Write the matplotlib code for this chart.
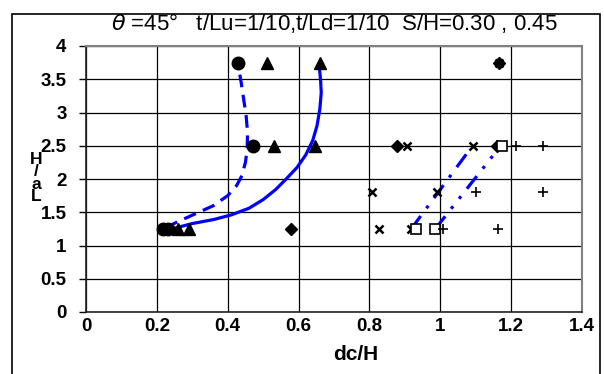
import matplotlib
matplotlib.use("Agg")
import matplotlib.pyplot as plt
from matplotlib.patches import Rectangle

plt.rcParams['font.family'] = ['Liberation Sans', 'DejaVu Sans']

# measured points (dc/H, H/aL)
circle_x = [0.43, 0.47, 0.218, 0.232]
circle_y = [3.75, 2.5, 1.25, 1.25]
tri_x = [0.51, 0.66, 0.53, 0.645, 0.26, 0.29]
tri_y = [3.75, 3.75, 2.5, 2.5, 1.25, 1.25]
diam_x = [0.58, 0.878, 1.161, 1.165]
diam_y = [1.25, 2.5, 2.5, 3.75]
xmark_x = [0.907, 1.093, 0.808, 0.99, 0.828, 0.918, 1.165]
xmark_y = [2.5, 2.5, 1.8, 1.8, 1.25, 1.25, 3.75]
square_x = [1.175, 0.932, 0.986]
square_y = [2.5, 1.25, 1.25]
plus_x = [1.215, 1.29, 1.10, 1.29, 1.009, 1.164]
plus_y = [2.5, 2.5, 1.8, 1.8, 1.25, 1.25]

# fitted curves
dash_x = [0.225, 0.26, 0.31, 0.36, 0.40, 0.425, 0.44, 0.45, 0.455, 0.456, 0.452, 0.445, 0.438, 0.43]
dash_y = [1.27, 1.36, 1.48, 1.60, 1.75, 1.90, 2.05, 2.25, 2.45, 2.70, 2.95, 3.20, 3.45, 3.71]
solid_x = [0.25, 0.30, 0.36, 0.41, 0.46, 0.50, 0.535, 0.565, 0.595, 0.62, 0.64, 0.652, 0.66, 0.664, 0.662, 0.658]
solid_y = [1.26, 1.33, 1.39, 1.46, 1.56, 1.69, 1.84, 2.00, 2.17, 2.36, 2.58, 2.80, 3.05, 3.30, 3.50, 3.71]
dashdot_x = [0.918, 1.08]
dashdot_y = [1.25, 2.42]
dashdotdot_x = [0.986, 1.175]
dashdotdot_y = [1.25, 2.53]

xticks = [0, 0.2, 0.4, 0.6, 0.8, 1, 1.2, 1.4]
yticks = [0, 0.5, 1, 1.5, 2, 2.5, 3, 3.5, 4]

fig = plt.figure(figsize=(6.04, 3.74), dpi=100)
ax = fig.add_axes([86/604, 1-312/374, (582-86)/604, (312-46)/374])

ax.set_xlim(0, 1.4)
ax.set_ylim(0, 4)
ax.set_xticks(xticks)
ax.set_yticks(yticks)
ax.set_xticklabels(['0', '0.2', '0.4', '0.6', '0.8', '1', '1.2', '1.4'],
                   fontsize=13.5, fontweight='bold')
ax.set_yticklabels(['0', '0.5', '1', '1.5', '2', '2.5', '3', '3.5', '4'],
                   fontsize=13.5, fontweight='bold')
ax.tick_params(axis='x', length=0, pad=4)
ax.tick_params(axis='y', length=5, width=1, direction='out', pad=9)
ax.grid(True, color='black', linewidth=0.9)
ax.set_axisbelow(True)
for s in ['top', 'right']:
    ax.spines[s].set_color('#808080')
    ax.spines[s].set_linewidth(1.5)
for s in ['left', 'bottom']:
    ax.spines[s].set_color('#222222')
    ax.spines[s].set_linewidth(1.2)

blue = '#0000ff'
ax.plot(dash_x, dash_y, color=blue, lw=2.3, dashes=(4, 2.4), zorder=3)
ax.plot(solid_x, solid_y, color=blue, lw=2.3, zorder=3)
ax.plot(dashdot_x, dashdot_y, color=blue, lw=2.3, dashes=(5, 3, 1, 3), zorder=3)
ax.plot(dashdotdot_x, dashdotdot_y, color=blue, lw=2.3, dashes=(5, 3, 1, 3, 1, 3), zorder=3)

ax.plot(circle_x, circle_y, 'o', color='black', ms=9, ls='none', zorder=4)
ax.plot(tri_x, tri_y, '^', color='black', ms=9, ls='none', zorder=4)
ax.plot(diam_x, diam_y, 'D', color='black', ms=6.5, ls='none', zorder=4)
ax.plot(xmark_x, xmark_y, 'x', color='black', ms=6, mew=1.8, ls='none', zorder=4)
ax.plot(square_x, square_y, 's', mfc='white', mec='black', ms=6.5, mew=1.2, ls='none', zorder=4)
ax.plot(plus_x, plus_y, '+', color='black', ms=7, mew=1.2, ls='none', zorder=4)

fig.text(334/604, 1-23/374, r'$\theta$ =45°   t/Lu=1/10,t/Ld=1/10  S/H=0.30 , 0.45',
         ha='center', va='center', fontsize=16)
fig.text(356/604, 1-355/374, 'dc/H', ha='center', va='center',
         fontsize=15, fontweight='bold')
fig.text(36/604, 1-178/374, 'H\n/\na\nL', ha='center', va='center',
         fontsize=12.5, fontweight='bold', linespacing=0.78)

fig.patches.append(Rectangle((12/604, -0.05), (600-12)/604, 1-14/374 + 0.05,
                             transform=fig.transFigure, fill=False,
                             edgecolor='black', lw=1.2))

fig.savefig('out.png', dpi=100)
